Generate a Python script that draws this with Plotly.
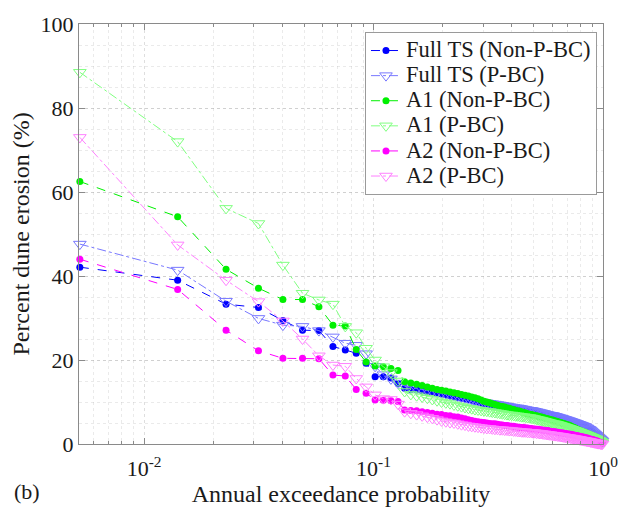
import plotly.graph_objects as go

# Annual exceedance probability (plotting positions)
aep = [0.00525, 0.01401, 0.02277, 0.03152, 0.04028, 0.04904, 0.05779, 0.06655, 0.07531, 0.08406,
       0.09282, 0.10158, 0.11033, 0.11909, 0.12785, 0.13660, 0.14536, 0.15412, 0.16287, 0.17163,
       0.18039, 0.18914, 0.19790, 0.20665, 0.21541, 0.22417, 0.23292, 0.24168, 0.25044, 0.25919,
       0.26795, 0.27671, 0.28546, 0.29422, 0.30298, 0.31173, 0.32049, 0.32925, 0.33800, 0.34676,
       0.35552, 0.36427, 0.37303, 0.38179, 0.39054, 0.39930, 0.40806, 0.41681, 0.42557, 0.43433,
       0.44308, 0.45184, 0.46060, 0.46935, 0.47811, 0.48687, 0.49562, 0.50438, 0.51313, 0.52189,
       0.53065, 0.53940, 0.54816, 0.55692, 0.56567, 0.57443, 0.58319, 0.59194, 0.60070, 0.60946,
       0.61821, 0.62697, 0.63573, 0.64448, 0.65324, 0.66200, 0.67075, 0.67951, 0.68827, 0.69702,
       0.70578, 0.71454, 0.72329, 0.73205, 0.74081, 0.74956, 0.75832, 0.76708, 0.77583, 0.78459,
       0.79335, 0.80210, 0.81086, 0.81961, 0.82837, 0.83713, 0.84588, 0.85464, 0.86340, 0.87215,
       0.88091, 0.88967, 0.89842, 0.90718, 0.91594, 0.92469, 0.93345, 0.94221, 0.95096, 0.95972,
       0.96848, 0.97723, 0.98599, 0.99475]

full_non = [42.1, 39.0, 33.3, 32.5, 29.4, 27.1, 27.0, 23.2, 22.4, 21.6,
            19.2, 16.0, 16.0, 15.7, 14.4, 13.3, 13.0, 12.9, 12.7, 12.5,
            12.3, 12.1, 11.9, 11.7, 11.5, 11.3, 11.1, 10.9, 10.8, 10.6,
            10.4, 10.2, 10.0, 9.8, 9.6, 9.5, 9.4, 9.3, 9.2, 9.1,
            9.0, 8.9, 8.9, 8.8, 8.7, 8.6, 8.5, 8.4, 8.3, 8.2,
            8.1, 8.1, 8.0, 7.9, 7.8, 7.8, 7.7, 7.6, 7.5, 7.4,
            7.3, 7.2, 7.1, 7.0, 6.9, 6.8, 6.7, 6.6, 6.5, 6.5,
            6.4, 6.3, 6.2, 6.1, 6.0, 5.9, 5.8, 5.7, 5.6, 5.5,
            5.4, 5.3, 5.2, 5.1, 5.0, 4.9, 4.8, 4.7, 4.6, 4.5,
            4.4, 4.3, 4.2, 4.1, 4.0, 3.9, 3.8, 3.6, 3.5, 3.3,
            3.2, 3.0, 2.8, 2.6, 2.4, 2.2, 2.0, 1.8, 1.6, 1.4,
            1.2, 1.0, 0.8, 0.6]

full_pbc = [47.6, 41.4, 34.0, 29.9, 28.3, 28.0, 27.0, 25.5, 24.0, 23.5,
            21.5, 18.5, 16.5, 15.5, 14.5, 13.8, 13.4, 13.2, 13.0, 12.8,
            12.6, 12.4, 12.2, 12.0, 11.8, 11.6, 11.4, 11.2, 11.0, 10.8,
            10.6, 10.4, 10.2, 10.0, 9.9, 9.8, 9.7, 9.6, 9.5, 9.4,
            9.3, 9.2, 9.1, 9.0, 8.9, 8.8, 8.7, 8.6, 8.6, 8.5,
            8.4, 8.3, 8.2, 8.1, 8.0, 8.0, 7.9, 7.8, 7.7, 7.6,
            7.5, 7.4, 7.3, 7.2, 7.1, 7.0, 6.9, 6.8, 6.8, 6.7,
            6.6, 6.5, 6.4, 6.3, 6.2, 6.1, 6.0, 5.9, 5.8, 5.7,
            5.6, 5.5, 5.4, 5.3, 5.2, 5.1, 5.0, 4.9, 4.8, 4.7,
            4.6, 4.5, 4.4, 4.3, 4.2, 4.1, 3.9, 3.8, 3.6, 3.5,
            3.3, 3.1, 2.9, 2.7, 2.5, 2.3, 2.1, 1.9, 1.7, 1.5,
            1.3, 1.1, 0.9, 0.7]

a1_non = [62.5, 54.1, 41.6, 37.1, 34.4, 34.4, 32.7, 28.3, 28.1, 22.5,
          19.5, 18.6, 18.4, 18.0, 17.5, 14.8, 14.5, 14.2, 13.9, 13.6,
          13.3, 13.0, 12.8, 12.6, 12.4, 12.2, 12.0, 11.8, 11.6, 11.4,
          11.2, 11.0, 10.8, 10.5, 10.2, 10.0, 9.8, 9.6, 9.4, 9.2,
          9.0, 8.9, 8.8, 8.6, 8.5, 8.3, 8.2, 8.0, 7.9, 7.8,
          7.6, 7.5, 7.4, 7.2, 7.1, 7.0, 6.9, 6.8, 6.7, 6.6,
          6.5, 6.4, 6.3, 6.2, 6.1, 6.0, 5.9, 5.8, 5.7, 5.6,
          5.5, 5.4, 5.3, 5.2, 5.1, 5.0, 4.9, 4.8, 4.7, 4.6,
          4.5, 4.4, 4.3, 4.1, 4.0, 3.9, 3.7, 3.6, 3.5, 3.3,
          3.2, 3.1, 3.0, 2.9, 2.8, 2.7, 2.6, 2.5, 2.4, 2.3,
          2.2, 2.1, 2.0, 1.9, 1.8, 1.7, 1.6, 1.5, 1.4, 1.3,
          1.1, 0.9, 0.7, 0.5]

a1_pbc = [88.5, 72.0, 56.1, 52.5, 42.6, 35.9, 34.3, 33.3, 28.0, 26.5,
          22.8, 20.0, 18.4, 17.0, 15.0, 12.5, 11.8, 11.5, 11.2, 10.9,
          10.6, 10.3, 10.0, 9.8, 9.6, 9.3, 9.1, 8.9, 8.7, 8.5,
          8.4, 8.2, 8.1, 8.0, 7.9, 7.8, 7.7, 7.6, 7.5, 7.4,
          7.3, 7.2, 7.1, 7.0, 6.9, 6.9, 6.8, 6.7, 6.7, 6.6,
          6.5, 6.5, 6.4, 6.3, 6.3, 6.2, 6.1, 6.0, 5.9, 5.8,
          5.7, 5.6, 5.5, 5.4, 5.3, 5.2, 5.1, 5.0, 4.9, 4.8,
          4.8, 4.7, 4.6, 4.5, 4.4, 4.3, 4.2, 4.1, 4.0, 3.9,
          3.8, 3.7, 3.6, 3.5, 3.4, 3.3, 3.2, 3.1, 3.0, 2.9,
          2.8, 2.7, 2.6, 2.5, 2.4, 2.3, 2.2, 2.1, 2.0, 1.9,
          1.8, 1.7, 1.6, 1.5, 1.4, 1.3, 1.2, 1.1, 1.0, 0.9,
          0.8, 0.6, 0.5, 0.3]

a2_non = [44.0, 36.8, 27.1, 22.2, 20.4, 20.4, 20.3, 16.4, 16.2, 13.0,
          12.1, 10.5, 10.4, 10.3, 10.1, 8.1, 8.0, 7.9, 7.7, 7.5,
          7.3, 7.1, 7.0, 6.8, 6.7, 6.5, 6.4, 6.2, 6.0, 5.8,
          5.6, 5.4, 5.3, 5.2, 5.1, 5.0, 4.9, 4.8, 4.8, 4.7,
          4.6, 4.5, 4.4, 4.4, 4.3, 4.2, 4.2, 4.1, 4.0, 4.0,
          3.9, 3.9, 3.8, 3.8, 3.7, 3.7, 3.6, 3.6, 3.5, 3.5,
          3.4, 3.4, 3.3, 3.3, 3.2, 3.2, 3.1, 3.0, 3.0, 2.9,
          2.9, 2.8, 2.8, 2.7, 2.7, 2.6, 2.6, 2.5, 2.5, 2.4,
          2.4, 2.3, 2.3, 2.2, 2.2, 2.1, 2.0, 2.0, 1.9, 1.9,
          1.8, 1.7, 1.7, 1.6, 1.6, 1.5, 1.4, 1.4, 1.3, 1.2,
          1.2, 1.1, 1.0, 1.0, 0.9, 0.8, 0.8, 0.7, 0.6, 0.5,
          0.4, 0.3, 0.2, 0.1]

a2_pbc = [73.0, 47.4, 39.0, 33.9, 29.3, 25.0, 21.0, 18.8, 18.5, 15.6,
          13.6, 11.7, 10.8, 10.6, 9.5, 7.7, 7.3, 7.0, 6.7, 6.4,
          6.1, 5.8, 5.5, 5.3, 5.1, 5.0, 4.8, 4.6, 4.5, 4.3,
          4.2, 4.1, 4.0, 3.9, 3.8, 3.7, 3.7, 3.6, 3.5, 3.5,
          3.4, 3.4, 3.3, 3.3, 3.2, 3.2, 3.1, 3.1, 3.0, 3.0,
          2.9, 2.9, 2.9, 2.8, 2.8, 2.8, 2.7, 2.7, 2.6, 2.6,
          2.5, 2.5, 2.4, 2.4, 2.3, 2.3, 2.2, 2.2, 2.1, 2.1,
          2.0, 2.0, 1.9, 1.9, 1.8, 1.8, 1.7, 1.7, 1.6, 1.6,
          1.5, 1.5, 1.4, 1.4, 1.3, 1.3, 1.2, 1.2, 1.1, 1.1,
          1.0, 1.0, 0.9, 0.9, 0.8, 0.8, 0.7, 0.7, 0.6, 0.6,
          0.5, 0.5, 0.4, 0.4, 0.3, 0.3, 0.2, 0.2, 0.1, 0.1,
          0.1, 0.0, 0.0, 0.0]

names = ["Full TS (Non-P-BC)", "Full TS (P-BC)", "A1 (Non-P-BC)",
         "A1 (P-BC)", "A2 (Non-P-BC)", "A2 (P-BC)"]
series = [full_non, full_pbc, a1_non, a1_pbc, a2_non, a2_pbc]
colors = ["#0000ff", "#7878ff", "#00f000", "#80ff80", "#ff00ff", "#ff80ff"]

x_major_ticks = [0.01, 0.1, 1]
x_major_text = ["10<sup>-2</sup>", "10<sup>-1</sup>", "10<sup>0</sup>"]
x_minor_ticks = [0.006, 0.007, 0.008, 0.009,
                 0.02, 0.03, 0.04, 0.05, 0.06, 0.07, 0.08, 0.09,
                 0.2, 0.3, 0.4, 0.5, 0.6, 0.7, 0.8, 0.9]
y_ticks = [0, 20, 40, 60, 80, 100]

FONT = "Liberation Serif"

fig = go.Figure()
for i, (nm, ys, c) in enumerate(zip(names, series, colors)):
    pbc = i % 2 == 1
    if pbc:
        marker = dict(symbol="triangle-down-open", size=11, color=c,
                      line=dict(width=1, color=c))
        line = dict(color=c, width=1, dash="dashdot")
    else:
        marker = dict(symbol="circle", size=7, color=c, line=dict(width=0))
        line = dict(color=c, width=1, dash="dash")
    fig.add_trace(go.Scatter(x=aep, y=ys, mode="lines+markers",
                             name='<span style="font-size:22.5px">%s</span>' % nm,
                             marker=marker, line=line, cliponaxis=False))

grid_major = "rgba(160,160,160,0.35)"
grid_minor = "rgba(170,170,170,0.25)"
axis_col = "#8a8a8a"
txt_col = "#1a1a1a"

fig.update_layout(
    width=621, height=515,
    margin=dict(l=79, r=18, t=24, b=71, autoexpand=False),
    paper_bgcolor="white", plot_bgcolor="white",
    font=dict(family=FONT, size=22, color=txt_col),
    showlegend=True,
    legend=dict(x=0.9885, y=0.981, xanchor="right", yanchor="top",
                bgcolor="white", bordercolor="#9a9a9a", borderwidth=1,
                font=dict(family=FONT, size=17, color=txt_col),
                tracegroupgap=0, itemwidth=30),
    xaxis=dict(type="log", range=[-2.2835, 0.0],
               tickmode="array", tickvals=x_major_ticks, ticktext=x_major_text,
               ticks="inside", ticklen=6, tickcolor=axis_col,
               ticklabelstandoff=5,
               showline=True, linecolor=axis_col, linewidth=1, mirror="ticks",
               showgrid=True, gridcolor=grid_major, griddash="dot",
               minor=dict(tickmode="array", tickvals=x_minor_ticks,
                          ticks="inside", ticklen=3, tickcolor=axis_col,
                          showgrid=True, gridcolor=grid_minor, griddash="dot"),
               title=dict(text="Annual exceedance probability", standoff=2,
                          font=dict(family=FONT, size=24, color=txt_col)),
               tickfont=dict(family=FONT, size=22, color=txt_col),
               zeroline=False),
    yaxis=dict(range=[0, 100], tickmode="array", tickvals=y_ticks,
               ticks="inside", ticklen=6, tickcolor=axis_col,
               showline=True, linecolor=axis_col, linewidth=1, mirror="ticks",
               showgrid=True, gridcolor=grid_major, griddash="dot",
               minor=dict(dtick=5, ticks="", showgrid=True,
                          gridcolor=grid_minor, griddash="dot"),
               title=dict(text="Percent dune erosion (%)", standoff=4,
                          font=dict(family=FONT, size=24, color=txt_col)),
               tickfont=dict(family=FONT, size=22, color=txt_col),
               zeroline=False),
    annotations=[dict(text="(b)", xref="paper", yref="paper", x=-0.128, y=-0.114,
                      xanchor="left", yanchor="middle", showarrow=False,
                      font=dict(family=FONT, size=22, color=txt_col))],
)

fig.write_html("out.html", config={"displayModeBar": False},
               post_script="document.body.style.margin='0';document.body.style.padding='0';")
